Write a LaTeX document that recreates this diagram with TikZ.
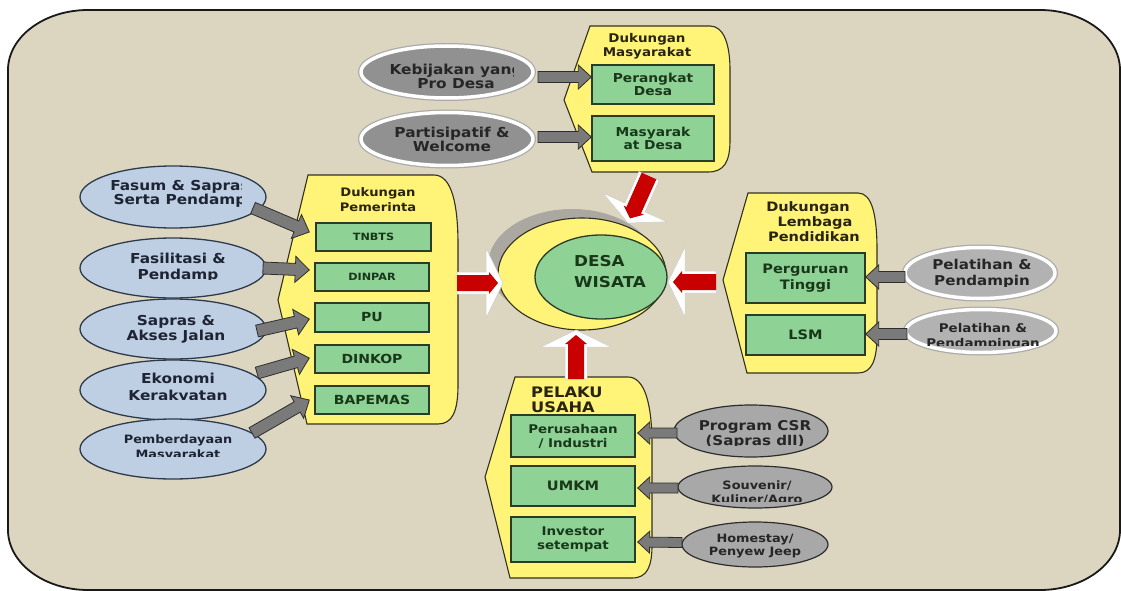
\documentclass[tikz,border=0pt]{standalone}
\usepackage{fontspec}
\setmainfont{DejaVu Sans}[FakeStretch=1.12]
\usetikzlibrary{calc,shapes.geometric}
\definecolor{bgc}{RGB}{220,214,193}
\definecolor{frameD}{RGB}{25,25,25}
\definecolor{contY}{RGB}{255,243,120}
\definecolor{contD}{RGB}{50,48,30}
\definecolor{boxG}{RGB}{143,210,150}
\definecolor{boxD}{RGB}{40,60,40}
\definecolor{boxT}{RGB}{25,55,25}
\definecolor{blueE}{RGB}{190,207,228}
\definecolor{blueD}{RGB}{45,58,75}
\definecolor{blueT}{RGB}{30,36,52}
\definecolor{grayA}{RGB}{145,145,145}
\definecolor{grayB}{RGB}{178,178,178}
\definecolor{grayC}{RGB}{168,168,168}
\definecolor{ringG}{RGB}{170,170,170}
\definecolor{arrG}{RGB}{122,122,122}
\definecolor{arrD}{RGB}{45,45,45}
\definecolor{redA}{RGB}{200,0,0}
\definecolor{shadowG}{RGB}{170,168,160}
\definecolor{titleT}{RGB}{40,36,15}
\newcommand\myfs[2]{\fontsize{#1}{#2}\selectfont\bfseries}
% block arrow: #1 style, #2 from, #3 to, #4 half shaft, #5 half head, #6 head length
\newcommand\barrow[6]{%
  \coordinate (bah) at ($(#3)!#6!(#2)$);
  \draw[#1] ($(#2)!#4!90:(#3)$) -- ($(bah)!#4!90:(#3)$) -- ($(bah)!#5!90:(#3)$) -- (#3)
    -- ($(bah)!#5!-90:(#3)$) -- ($(bah)!#4!-90:(#3)$) -- ($(#2)!#4!-90:(#3)$) -- cycle;}
% clipped text: #1 name, #2 pos, #3 style, #4 corner, #5 corner, #6 text
\newcommand\ctext[6]{%
  \begin{scope}\clip #4 rectangle #5; \node[#3] (#1) at #2 {#6};\end{scope}}
\tikzset{
  bgframe/.style={fill=bgc, draw=frameD, line width=1.8pt},
  cont/.style={fill=contY, draw=contD, line width=1.1pt},
  gbox/.style={rectangle, draw=boxD, fill=boxG, line width=1.4pt, inner sep=0pt,
    text=boxT, align=center, font=\myfs{12.3}{13.5}},
  title/.style={text=titleT, align=center, inner sep=0pt},
  blueell/.style={ellipse, fill=blueE, draw=blueD, line width=1.3pt, inner sep=0pt},
  topell/.style={ellipse, fill=grayA, draw=white, line width=3.5pt, inner sep=0pt,
    preaction={draw=ringG, line width=6pt}},
  rightell/.style={ellipse, fill=grayB, draw=white, line width=3.5pt, inner sep=0pt,
    preaction={draw=ringG, line width=6pt}},
  botell/.style={ellipse, fill=grayC, draw=arrD, line width=1.2pt, inner sep=0pt},
  etext/.style={align=center, inner sep=0pt, text=blueT, font=\myfs{13.7}{13.5}},
  gtext/.style={align=center, inner sep=0pt, text=black!85, font=\myfs{13.7}{14}},
  garrow/.style={fill=arrG, draw=arrD, line width=0.8pt, line join=miter},
  whitearrow/.style={fill=white, draw=black!20, line width=0.5pt},
  redarrow/.style={fill=redA, draw=none},
}
\begin{document}
\begin{tikzpicture}[x=1pt,y=-1pt]
\useasboundingbox (0,0) rectangle (1121,591);
\fill[white] (0,0) rectangle (1121,591);
\draw[bgframe] (8,70) .. controls (8,37) and (44,10) .. (88,10) -- (1040,10)
  .. controls (1084,10) and (1120,37) .. (1120,70) -- (1120,530)
  .. controls (1120,563) and (1084,590) .. (1040,590) -- (88,590)
  .. controls (44,590) and (8,563) .. (8,530) -- cycle;

% ---------- containers ----------
\draw[cont] (590,26) -- (710,26) .. controls (724,26) and (730,45) .. (730,70) -- (730,140)
  .. controls (730,162) and (724,172) .. (708,172) -- (592,172) -- (564,100) -- cycle;
\draw[cont] (308,175) -- (434,175) .. controls (452,175) and (458,205) .. (458,245) -- (458,385)
  .. controls (458,412) and (452,424) .. (438,424) -- (307,424) -- (278,300) -- cycle;
\draw[cont] (748,193) -- (858,193) .. controls (872,193) and (877,215) .. (877,250) -- (877,335)
  .. controls (877,360) and (872,373) .. (858,373) -- (747,373) -- (723,280) -- cycle;
\draw[cont] (515,377) -- (628,377) .. controls (645,377) and (652,405) .. (652,445) -- (652,545)
  .. controls (652,567) and (647,578) .. (632,578) -- (510,578) -- (485,477) -- cycle;

% ---------- titles ----------
\node[title, font=\myfs{12}{14}] (tMas) at (647,46) {Dukungan\\Masyarakat};
\node[title, font=\myfs{11.7}{15}] (tPem) at (378,200) {Dukungan\\Pemerinta};
\ctext{tLem}{(808,222)}{title, font=\myfs{13}{15}}{(735,190)}{(875,241)}{Dukungan\\\hspace*{14pt}Lembaga\\\hspace*{12pt}Pendidikan}
\node[title, align=left, anchor=west, font=\myfs{14.5}{14.5}] (tPel) at (531,400) {PELAKU\\USAHA};

% ---------- boxes ----------
\node[gbox, minimum width=122pt, minimum height=39pt] (perangkat) at (653,84.5) {Perangkat\\Desa};
\node[gbox, minimum width=122pt, minimum height=45pt] (masy) at (653,138.5) {Masyarak\\at Desa};

\node[gbox, minimum width=115pt, minimum height=28pt, font=\myfs{10}{12}] (tnbts) at (373.5,237) {TNBTS};
\node[gbox, minimum width=114pt, minimum height=28pt, font=\myfs{10}{12}] (dinpar) at (372,277) {DINPAR};
\node[gbox, minimum width=114pt, minimum height=29pt, font=\myfs{12.5}{13}] (pu) at (372,317.5) {PU};
\node[gbox, minimum width=114pt, minimum height=28pt, font=\myfs{12.5}{13}] (dinkop) at (372,359) {DINKOP};
\node[gbox, minimum width=114pt, minimum height=28pt, font=\myfs{12.5}{13}] (bapemas) at (372,400) {BAPEMAS};

\node[gbox, minimum width=119pt, minimum height=50pt, font=\myfs{13}{16}] (pt) at (805.5,278) {Perguruan\\Tinggi};
\node[gbox, minimum width=119pt, minimum height=40pt, font=\myfs{13}{14}] (lsm) at (805.5,335) {LSM};

\node[gbox, minimum width=124pt, minimum height=42pt, font=\myfs{12}{14}] (perus) at (573,436) {Perusahaan\\/ Industri};
\node[gbox, minimum width=124pt, minimum height=40pt, font=\myfs{13}{14}] (umkm) at (573,486) {UMKM};
\node[gbox, minimum width=124pt, minimum height=45pt, font=\myfs{12}{14}] (inv) at (573,539.5) {Investor\\setempat};

% ---------- centre ----------
\node[ellipse, fill=shadowG, minimum width=168pt, minimum height=112pt, inner sep=0pt] (desash) at (572,265) {};
\node[ellipse, cont, minimum width=168pt, minimum height=112pt, inner sep=0pt] (desa) at (582,274) {};
\node[ellipse, fill=boxG, draw=boxD, line width=1.3pt, minimum width=132pt, minimum height=84pt, inner sep=0pt] (desain) at (601,277) {};
\node[anchor=west, align=left, inner sep=0pt, text=boxT, font=\myfs{15}{21}] (desaT) at (574,272) {DESA\\WISATA};

% ---------- ellipses ----------
\node[topell, minimum width=172pt, minimum height=52pt] (keb) at (447,72) {};
\node[topell, minimum width=172pt, minimum height=53pt] (part) at (447,139) {};
\ctext{kebT}{(456,76.5)}{gtext}{(360,40)}{(513,105)}{Kebijakan yang\\Pro Desa}
\node[gtext] (partT) at (452,139.5) {Partisipatif \&\\Welcome};

\node[blueell, minimum width=186pt, minimum height=62pt] (fasum) at (173,197) {};
\node[blueell, minimum width=186pt, minimum height=60pt] (fasil) at (173,268) {};
\node[blueell, minimum width=186pt, minimum height=60pt] (sapras) at (173,329) {};
\node[blueell, minimum width=186pt, minimum height=60pt] (ekon) at (173,390) {};
\node[blueell, minimum width=186pt, minimum height=60pt] (pemb) at (173,449) {};
\ctext{fasumT}{(180,194)}{etext}{(90,170)}{(241,225)}{Fasum \& Sapras\\Serta Pendamp}
\ctext{fasilT}{(178,267.5)}{etext, font=\myfs{13.7}{16}}{(90,245)}{(250,279)}{Fasilitasi \&\\Pendamp}
\node[etext, font=\myfs{13.7}{15}] (saprasT) at (176,329.5) {Sapras \&\\Akses Jalan};
\ctext{ekonT}{(178,388.5)}{etext, font=\myfs{13.7}{16.5}}{(90,365)}{(260,399)}{Ekonomi\\Kerakyatan}
\ctext{pembT}{(178,447.5)}{etext, font=\myfs{11.5}{15}}{(90,425)}{(260,456.5)}{Pemberdayaan\\Masyarakat}

\node[rightell, minimum width=150pt, minimum height=51pt] (pel1) at (980,273) {};
\node[rightell, minimum width=150pt, minimum height=43pt] (pel2) at (981,331) {};
\ctext{pel1T}{(982,274)}{gtext, font=\myfs{13.5}{16}}{(900,250)}{(1060,286)}{Pelatihan \&\\Pendampin}
\ctext{pel2T}{(983,336.5)}{gtext, font=\myfs{12}{15}}{(900,315)}{(1060,345)}{Pelatihan \&\\Pendampingan}

\node[botell, minimum width=154pt, minimum height=52pt] (csr) at (751,431) {};
\node[botell, minimum width=154pt, minimum height=42pt] (souv) at (755,487) {};
\node[botell, minimum width=146pt, minimum height=45pt] (home) at (755,544.5) {};
\ctext{csrT}{(755,434.5)}{gtext, font=\myfs{13.5}{15}}{(680,410)}{(830,445.5)}{Program CSR\\(Sapras dll)}
\ctext{souvT}{(757,493)}{gtext, font=\myfs{11.5}{14}}{(680,470)}{(830,501.5)}{Souvenir/\\Kuliner/Agro}
\node[gtext, font=\myfs{11.5}{13}] (homeT) at (755,546.5) {Homestay/\\Penyew Jeep};

% ---------- grey connectors ----------
\coordinate (s1) at ($(keb.center)+(91,5)$);   \coordinate (t1) at ($(perangkat.west)+(0,-7.5)$);
\coordinate (s2) at ($(part.center)+(91,-2)$);  \coordinate (t2) at ($(masy.west)+(0,-1.5)$);
\barrow{garrow}{s1}{t1}{5.5pt}{12pt}{13pt}
\barrow{garrow}{s2}{t2}{5.5pt}{12pt}{13pt}

\coordinate (s3) at ($(fasum.center)+(80,11)$);  \coordinate (t3) at ($(tnbts.west)+(-6,-5)$);
\coordinate (s4) at ($(fasil.center)+(90,0)$);   \coordinate (t4) at ($(dinpar.west)+(-5,-7)$);
\coordinate (s5) at ($(sapras.center)+(84,2)$);  \coordinate (t5) at ($(pu.west)+(-5,1.5)$);
\coordinate (s6) at ($(ekon.center)+(84,-17)$);  \coordinate (t6) at ($(dinkop.west)+(-5,-1)$);
\coordinate (s7) at ($(pemb.center)+(79,-16)$);  \coordinate (t7) at ($(bapemas.west)+(-5,0)$);
\barrow{garrow}{s3}{t3}{6pt}{13pt}{14pt}
\barrow{garrow}{s4}{t4}{6pt}{13pt}{14pt}
\barrow{garrow}{s5}{t5}{6pt}{13pt}{14pt}
\barrow{garrow}{s6}{t6}{6pt}{13pt}{14pt}
\barrow{garrow}{s7}{t7}{6pt}{13pt}{14pt}

\coordinate (s8) at ($(pel1.center)+(-75,4)$);   \coordinate (t8) at ($(pt.east)+(0,-1)$);
\coordinate (s9) at ($(pel2.center)+(-74,3)$);   \coordinate (t9) at ($(lsm.east)+(0,-1)$);
\barrow{garrow}{s8}{t8}{5.5pt}{12pt}{13pt}
\barrow{garrow}{s9}{t9}{5.5pt}{12pt}{13pt}

\coordinate (s10) at ($(csr.center)+(-74,2)$);   \coordinate (t10) at ($(perus.east)+(2,-3)$);
\coordinate (s11) at ($(souv.center)+(-77,1)$);  \coordinate (t11) at ($(umkm.east)+(2,2)$);
\coordinate (s12) at ($(home.center)+(-73,-2)$); \coordinate (t12) at ($(inv.east)+(2,2.5)$);
\barrow{garrow}{s10}{t10}{5pt}{11pt}{12pt}
\barrow{garrow}{s11}{t11}{5pt}{11pt}{12pt}
\barrow{garrow}{s12}{t12}{5pt}{11pt}{12pt}

% ---------- red arrows ----------
\coordinate (rL) at (457,283);  \coordinate (rLt) at ($(desa.center)+(-79,9)$);
\coordinate (rR) at (716,282);  \coordinate (rRt) at ($(desa.center)+(86,8)$);
\coordinate (rT) at (649,176);  \coordinate (rTt) at ($(desa.center)+(46,-51)$);
\coordinate (rB) at (576,379);  \coordinate (rBt) at ($(desa.center)+(-6,56)$);
\foreach \a/\b in {rL/rLt, rR/rRt, rT/rTt, rB/rBt}{
  \barrow{whitearrow}{\a}{\b}{11pt}{35pt}{17pt}
  \coordinate (rtip) at ($(\b)!5pt!(\a)$);
  \barrow{redarrow}{\a}{rtip}{8pt}{11pt}{9pt}
}
\end{tikzpicture}
\end{document}
